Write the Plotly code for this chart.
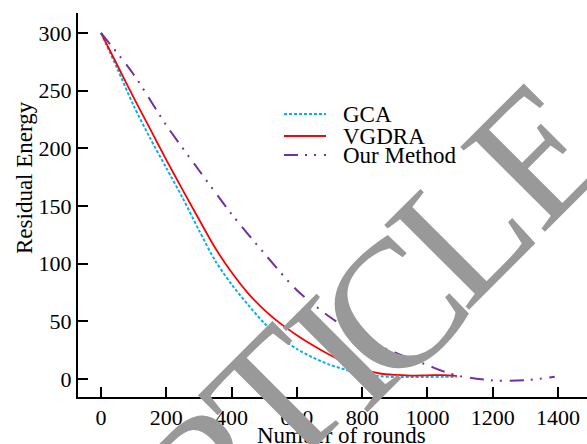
import plotly.graph_objects as go

# ---- data ----
rounds_gca = [0, 50, 100, 150, 200, 250, 300, 350, 400, 450, 500, 550, 600, 650, 700,
              750, 800, 850, 900, 950, 1000, 1050, 1090]
energy_gca = [300, 269, 237, 209, 183, 157, 129, 102.5, 82, 64.5, 48.5, 36, 26, 18.5, 12.5,
              8, 4.5, 2.5, 1.8, 1.7, 1.8, 2.0, 2.0]

rounds_vgdra = [0, 50, 100, 150, 200, 250, 300, 350, 400, 450, 500, 550, 600, 650, 700,
                750, 800, 850, 900, 950, 1000, 1050, 1090]
energy_vgdra = [300, 272, 244, 217, 190, 164, 138.5, 113.5, 92.5, 74.5, 60, 48, 38, 29, 21,
                14, 8.5, 5, 3.5, 3.0, 3.2, 3.4, 2.8]

rounds_our = [0, 100, 200, 300, 400, 500, 600, 700, 800, 900, 1000, 1050, 1100, 1150,
              1200, 1250, 1300, 1350, 1390]
energy_our = [300, 264, 220, 181, 143, 109, 77, 54, 36, 23, 12, 6.5, 2.5, 0.3,
              -1.3, -1.6, -1.1, 0.5, 2]

series_names = ["GCA", "VGDRA", "Our Method"]
series_colors = ["#00B0F0", "#FF0000", "#7030A0"]
series_dash = ["3px,2px", "solid", "14px,7px,2px,7px,2px,8px"]
series_width = [2, 1.8, 2]

x_ticks = [0, 200, 400, 600, 800, 1000, 1200, 1400]
y_ticks = [0, 50, 100, 150, 200, 250, 300]

watermark_letters = ["R", "T", "I", "C", "L", "E"]

FONT = "Liberation Serif"

fig = go.Figure()
for xs, ys, name, c, d, w in zip([rounds_gca, rounds_vgdra, rounds_our],
                                 [energy_gca, energy_vgdra, energy_our],
                                 series_names, series_colors, series_dash, series_width):
    fig.add_trace(go.Scatter(x=xs, y=ys, mode="lines", name=name,
                             line=dict(color=c, dash=d, width=w, shape="spline", smoothing=0.8),
                             showlegend=False))

# geometry helpers (pixel -> paper)
L, R, T, B = 78, 587, 13, 397
def px(x):
    return (x - L) / (R - L)
def py(y):
    return (B - y) / (B - T)

axis_common = dict(showline=True, linecolor="black", linewidth=2, ticks="inside",
                   ticklen=10, tickwidth=2, tickcolor="black", showgrid=False,
                   zeroline=False, tickfont=dict(family=FONT, size=22, color="black"))

fig.update_xaxes(range=[-70.5, 1488.8], tickvals=x_ticks, **axis_common)
fig.update_yaxes(range=[-15.6, 317.3], tickvals=y_ticks,
                 minor=dict(tickvals=[317.0], ticks="inside", ticklen=10, tickwidth=2,
                            tickcolor="black"),
                 **axis_common)

annotations = [
    dict(text="Residual Energy", x=px(24), y=py(178), xref="paper", yref="paper",
         textangle=-90, showarrow=False, xanchor="center", yanchor="middle",
         font=dict(family=FONT, size=23, color="black")),
    dict(text="Number of rounds", x=px(341), y=py(435), xref="paper", yref="paper",
         showarrow=False, xanchor="center", yanchor="middle",
         font=dict(family=FONT, size=23, color="black")),
]

# manual legend
legend_y = [114, 136, 155]
shapes = []
for name, c, d, w, ly in zip(series_names, series_colors, series_dash, series_width, legend_y):
    shapes.append(dict(type="line", xref="paper", yref="paper", x0=px(284), x1=px(326),
                       y0=py(ly), y1=py(ly), line=dict(color=c, dash=d, width=w)))
    annotations.append(dict(text=name, x=px(341), y=py(ly), xref="paper", yref="paper",
                            showarrow=False, xanchor="left", yanchor="middle",
                            font=dict(family=FONT, size=23, color="black")))

# watermark ("...ARTICLE"), one rotated letter per annotation (pixel centres)
wm_x = [213, 276, 340, 392, 461, 537]
wm_y = [472, 399, 352, 308, 230, 152]
for ch, cx, cy in zip(watermark_letters, wm_x, wm_y):
    annotations.append(dict(text=ch, x=px(cx), y=py(cy), xref="paper", yref="paper",
                            showarrow=False, xanchor="center", yanchor="middle",
                            textangle=-45,
                            font=dict(family=FONT, size=183, color="#999999")))

fig.update_layout(width=587, height=444, margin=dict(l=L, r=0, t=T, b=444 - B),
                  plot_bgcolor="white", paper_bgcolor="white",
                  annotations=annotations, shapes=shapes, showlegend=False)

fig.write_html("out.html")
